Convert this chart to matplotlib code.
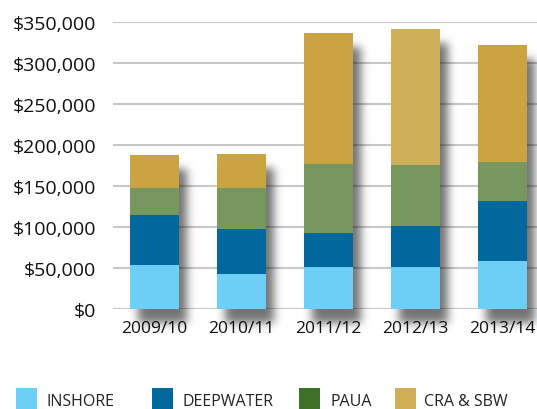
import matplotlib
matplotlib.use("Agg")
import matplotlib.pyplot as plt
from matplotlib.patches import Rectangle
import numpy as np

years = ["2009/10", "2010/11", "2011/12", "2012/13", "2013/14"]
inshore = [53600, 42600, 51200, 51200, 58500]
deepwater = [60900, 54900, 41400, 49900, 73100]
paua = [32900, 49900, 84000, 74300, 47500]
cra_sbw = [40200, 41400, 159600, 165700, 142500]
series_names = ["INSHORE", "DEEPWATER", "PAUA", "CRA & SBW"]
yticks = [0, 50000, 100000, 150000, 200000, 250000, 300000, 350000]

bar_colors = ["#6DCFF6", "#00689D", "#76985F", "#C9A441"]
cra_colors = ["#C9A441", "#C9A441", "#C9A441", "#CFAF5A", "#C9A441"]
legend_colors = ["#6DCFF6", "#00689D", "#3D7128", "#D1AE55"]

plt.rcParams['font.family'] = ['Open Sans', 'DejaVu Sans']

W, H = 537, 410
fig = plt.figure(figsize=(W/100, H/100), dpi=100)
ax = fig.add_axes([112.7/W, 1-310/H, 1-112.7/W, (310-22.7)/H])

x = np.arange(len(years))
width = 0.563
xlim = (-0.48, 4.397)
ylim = (0, 350000)
ax.set_xlim(*xlim)
ax.set_ylim(*ylim)

totals = np.array(inshore) + np.array(deepwater) + np.array(paua) + np.array(cra_sbw)

# soft drop shadow image (blurred, offset copies of the bar outlines)
mask = np.zeros((H, W))
dx, dy = 8, 14
for xi, tot in zip(x, totals):
    (x0, y0) = ax.transData.transform((xi - width/2, 0))
    (x1, y1) = ax.transData.transform((xi + width/2, tot))
    c0, c1 = int(round(x0 + dx)), int(round(x1 + dx))
    r0, r1 = int(round(H - y1 + dy)), int(round(H - y0 + dy))
    mask[max(r0, 0):min(r1, H), max(c0, 0):min(c1, W)] = 1.0
sigma = 4.5
k = np.arange(-15, 16)
g = np.exp(-k**2 / (2*sigma**2)); g /= g.sum()
blur = np.apply_along_axis(lambda m: np.convolve(m, g, mode='same'), 1, mask)
blur = np.apply_along_axis(lambda m: np.convolve(m, g, mode='same'), 0, blur)
rgba = np.zeros((H, W, 4))
rgba[..., 3] = blur * 0.55
ax.imshow(rgba, extent=[0, 1, 0, 1], transform=fig.transFigure, zorder=1,
          clip_on=False, aspect='auto', interpolation='nearest')
ax.set_xlim(*xlim)
ax.set_ylim(*ylim)

bottom = np.zeros(len(years))
for vals, c in zip([inshore, deepwater, paua], bar_colors[:3]):
    ax.bar(x, vals, width, bottom=bottom, color=c, zorder=3, linewidth=0)
    bottom += np.array(vals)
ax.bar(x, cra_sbw, width, bottom=bottom, color=cra_colors, zorder=3, linewidth=0)

ax.set_yticks(yticks)
ax.set_yticklabels(["${:,}".format(v) for v in yticks], fontsize=14, color="#111111")
ax.yaxis.grid(True, color="#C8C8C8", linewidth=1.5, zorder=0)
ax.set_axisbelow(True)
ax.tick_params(axis='y', length=0, pad=12)
ax.set_xticks(x)
ax.set_xticklabels(years, fontsize=12.5, color="#111111")
ax.tick_params(axis='x', length=0, pad=8)
for s in ax.spines.values():
    s.set_visible(False)

# legend
sq_x = [16, 152, 299, 395]
tx_x = [47, 183, 330, 424]
for sx, tx, c, name in zip(sq_x, tx_x, legend_colors, series_names):
    fig.patches.append(Rectangle((sx/W, 0), 21/W, 21/H, transform=fig.transFigure,
                                 facecolor=c, edgecolor="none"))
    fig.text(tx/W, 8/H, name, fontsize=11.5, color="#222222", va="center", ha="left")

fig.savefig("out.png", dpi=100)
